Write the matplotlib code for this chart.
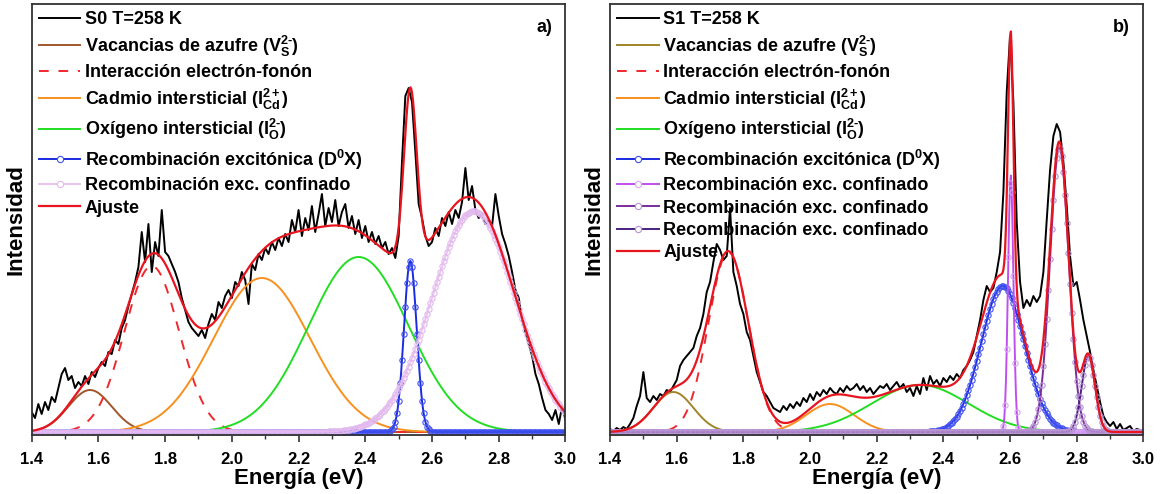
import numpy as np
import matplotlib.pyplot as plt
from matplotlib.lines import Line2D
from matplotlib.ticker import MultipleLocator

plt.rcParams['font.family'] = ['Liberation Sans', 'DejaVu Sans']
plt.rcParams['font.weight'] = 'bold'
plt.rcParams['mathtext.fontset'] = 'custom'
plt.rcParams['mathtext.rm'] = 'Liberation Sans:bold'
plt.rcParams['mathtext.bf'] = 'Liberation Sans:bold'
plt.rcParams['mathtext.it'] = 'Liberation Sans:bold'
plt.rcParams['mathtext.default'] = 'rm'

# measured PL spectra, sampled every 0.01 eV from 1.40 to 3.00 eV
energy = np.round(np.arange(1.40, 3.0001, 0.01), 2)

s0 = [20, 14, 28, 18, 30, 22, 35, 30, 44, 58,
      64, 52, 56, 44, 50, 46, 56, 48, 60, 55,
      64, 70, 66, 80, 78, 92, 88, 104, 112, 126,
      138, 150, 165, 200, 170, 208, 160, 190, 176, 222,
      180, 176, 168, 160, 150, 134, 122, 110, 104, 100,
      96, 102, 94, 108, 118, 112, 130, 124, 136, 142,
      134, 150, 146, 160, 152, 128, 168, 162, 178, 172,
      184, 178, 190, 182, 194, 186, 198, 190, 212, 200,
      222, 196, 214, 202, 226, 200, 218, 238, 206, 224,
      210, 232, 206, 220, 228, 204, 216, 198, 212, 194,
      206, 190, 200, 188, 196, 184, 190, 178, 184, 174,
      196, 270, 336, 344, 330, 280, 228, 214, 196, 186,
      190, 204, 196, 214, 206, 220, 208, 222, 214, 230,
      264, 232, 246, 222, 214, 218, 208, 212, 206, 238,
      216, 198, 188, 176, 160, 142, 134, 112, 100, 88,
      76, 58, 48, 34, 22, 18, 12, 22, 8, 26,
      12]

s1 = [3, 1, 4, 2, 5, 3, 8, 14, 26, 36,
      60, 34, 30, 36, 32, 38, 36, 42, 40, 46,
      52, 66, 72, 76, 80, 84, 96, 104, 118, 140,
      150, 170, 188, 182, 172, 176, 224, 160, 146, 128,
      118, 100, 92, 76, 60, 50, 40, 36, 30, 24,
      22, 20, 26, 22, 28, 24, 30, 26, 34, 30,
      38, 32, 40, 36, 42, 38, 44, 40, 38, 44,
      40, 46, 42, 44, 48, 42, 46, 40, 44, 38,
      42, 46, 44, 48, 42, 46, 50, 44, 48, 40,
      44, 36, 46, 38, 54, 42, 56, 48, 52, 46,
      54, 50, 56, 52, 58, 54, 62, 66, 72, 80,
      96, 112, 132, 146, 140, 144, 160, 180, 240, 340,
      396, 330, 210, 150, 124, 132, 126, 136, 130, 136,
      160, 212, 262, 296, 308, 300, 270, 226, 176, 146,
      150, 132, 112, 96, 80, 62, 46, 30, 16, 10,
      6, 10, 3, 8, 2, 4, 6, 1, 3, 2,
      1]

# gaussian fit components: centre (eV), sigma (eV), height
s0_centers = [1.575, 1.76, 2.09, 2.38, 2.535, 2.725]
s0_sigmas = [0.065, 0.082, 0.145, 0.15, 0.019, 0.125]
s0_heights = [42, 166, 154, 175, 171, 221]

s1_centers = [1.59, 1.755, 2.06, 2.33, 2.578, 2.602, 2.748, 2.835]
s1_sigmas = [0.06, 0.06, 0.072, 0.145, 0.065, 0.008, 0.028, 0.02]
s1_heights = [40, 180, 28, 47, 146, 257, 285, 76]

s0_labels = ['Vacancias de azufre ($V_S^{2\u2010}$)',
             'Interacción electrón-fonón',
             'Cadmio intersticial ($I_{Cd}^{2+}$)',
             'Oxígeno intersticial ($I_O^{2\u2010}$)',
             'Recombinación excitónica (D$^0$X)',
             'Recombinación exc. confinado']
s1_labels = s0_labels + ['Recombinación exc. confinado',
                         'Recombinación exc. confinado']

s0_styles = [dict(color='#A0562C'),
             dict(color='#F0282E', ls=(0, (5, 5))),
             dict(color='#F7901E'),
             dict(color='#22DD22'),
             dict(color='#1A2BE0', marker='o', mfc='none', mec='#4050F0'),
             dict(color='#EBC4F2', marker='o', mfc='none', mec='#E2B8EE')]
s1_styles = [dict(color='#A08428'),
             dict(color='#F0282E', ls=(0, (5, 5))),
             dict(color='#F7901E'),
             dict(color='#22DD22'),
             dict(color='#1A2BE0', marker='o', mfc='none', mec='#4050F0'),
             dict(color='#C050EE', marker='o', mfc='none', mec='#D9A6F2'),
             dict(color='#7A2E9C', marker='o', mfc='none', mec='#B894D4'),
             dict(color='#4A2080', marker='o', mfc='none', mec='#B894D4')]

e_fit = np.linspace(1.40, 3.00, 641)


def gauss(e, c, s, h):
    return h * np.exp(-(e - c) ** 2 / (2 * s ** 2))


def draw_panel(ax, spectrum, name, centers, sigmas, heights, labels, styles, tag):
    ax.plot(energy, spectrum, color='black', lw=1.4)
    handles = [Line2D([], [], color='black', lw=1.4, label=name)]
    total = np.zeros_like(e_fit)
    for c, s, hh, lab, st in zip(centers, sigmas, heights, labels, styles):
        y = gauss(e_fit, c, s, hh)
        total += y
        kw = dict(lw=1.4)
        kw.update(st)
        if 'marker' in kw:
            kw.update(ms=3.8, mew=0.8)
            ax.plot(e_fit, y, markevery=2, **kw)
            kw.update(ms=4.5, mfc='white')
        else:
            ax.plot(e_fit, y, **kw)
        handles.append(Line2D([], [], label=lab, **kw))
    ax.plot(e_fit, total, color='#E8141E', lw=1.6)
    handles.append(Line2D([], [], color='#E8141E', lw=1.6, label='Ajuste'))

    ax.set_xlim(1.4, 3.0)
    ax.set_ylim(-3, 428)
    ax.set_yticks([])
    ax.xaxis.set_major_locator(MultipleLocator(0.2))
    ax.xaxis.set_minor_locator(MultipleLocator(0.1))
    ax.xaxis.set_major_formatter(plt.FormatStrFormatter('%.1f'))
    ax.tick_params(axis='x', which='major', direction='out', length=5, width=1.2,
                   labelsize=12, pad=7, color='#333333')
    ax.tick_params(axis='x', which='minor', direction='out', length=3, width=1.0,
                   color='#333333')
    for sp in ax.spines.values():
        sp.set_linewidth(1.3)
        sp.set_color('#333333')
    ax.set_xlabel('Energía (eV)', fontsize=16, fontweight='bold', labelpad=1)
    ax.set_ylabel('Intensidad', fontsize=16, fontweight='bold', labelpad=4)
    ax.text(0.975, 0.965, tag, transform=ax.transAxes, ha='right', va='top',
            fontsize=13, fontweight='bold')

    ax.legend(handles=handles, loc='upper left', bbox_to_anchor=(0.0, 1.0),
              frameon=False, handlelength=2.3, handletextpad=0.25,
              labelspacing=0.3, borderaxespad=0.0, borderpad=0.4,
              numpoints=1, prop=dict(weight='bold', size=13))


fig = plt.figure(figsize=(11.64, 4.94), dpi=100)
ax_a = fig.add_axes([0.0272, 0.1194, 0.4586, 0.8725])
ax_b = fig.add_axes([0.5241, 0.1194, 0.4582, 0.8725])

draw_panel(ax_a, s0, 'S0 T=258 K', s0_centers, s0_sigmas, s0_heights,
           s0_labels, s0_styles, 'a)')
draw_panel(ax_b, s1, 'S1 T=258 K', s1_centers, s1_sigmas, s1_heights,
           s1_labels, s1_styles, 'b)')

fig.savefig('out.png', dpi=100)
